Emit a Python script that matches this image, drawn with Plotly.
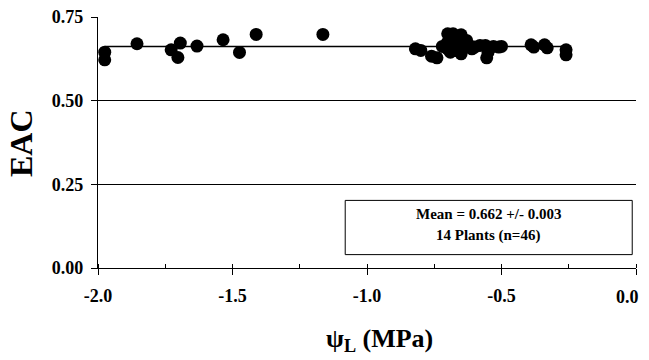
import plotly.graph_objects as go

# Leaf water potential (MPa) and EAC values
psi_left = [-1.975, -1.975, -1.855, -1.728, -1.694, -1.703, -1.632, -1.535, -1.474, -1.412, -1.164]
eac_left = [0.645, 0.622, 0.670, 0.652, 0.672, 0.629, 0.663, 0.682, 0.644, 0.698, 0.698]

psi_right = [-0.82, -0.80, -0.76, -0.74, -0.70, -0.69, -0.68, -0.70, -0.70, -0.69,
             -0.68, -0.67, -0.66, -0.65, -0.65, -0.64, -0.63, -0.62, -0.61, -0.60,
             -0.58, -0.56, -0.555, -0.55, -0.53, -0.51, -0.50, -0.39, -0.38, -0.34,
             -0.33, -0.26, -0.26, -0.72, -0.66]
eac_right = [0.655, 0.650, 0.633, 0.628, 0.700, 0.690, 0.700, 0.675, 0.655, 0.645,
             0.665, 0.650, 0.690, 0.697, 0.640, 0.660, 0.680, 0.665, 0.655, 0.660,
             0.665, 0.665, 0.628, 0.645, 0.662, 0.660, 0.662, 0.667, 0.660, 0.667,
             0.658, 0.652, 0.637, 0.662, 0.672]

psi = psi_left + psi_right
eac = eac_left + eac_right

MEAN = 0.662
x_ticks = [-2.0, -1.5, -1.0, -0.5, 0.0]
x_tick_text = ["-2.0", "-1.5", "-1.0", "-0.5", "0.0"]
y_ticks = [0.0, 0.25, 0.5, 0.75]
y_tick_text = ["0.00", "0.25", "0.50", "0.75"]
stats_lines = ["Mean = 0.662 +/- 0.003", "14 Plants (n=46)"]

FONT = "Liberation Serif, Times New Roman, serif"
W, H = 649, 360
ML, MR, MT, MB = 98, 13, 17, 92
PW, PH = W - ML - MR, H - MT - MB


def px_to_paper(px, py):
    return (px - ML) / PW, (H - MB - py) / PH


fig = go.Figure()
fig.add_trace(go.Scatter(x=[min(psi), max(psi)], y=[MEAN, MEAN], mode="lines",
                         line=dict(color="black", width=1.6), hoverinfo="skip",
                         showlegend=False))
fig.add_trace(go.Scatter(x=psi, y=eac, mode="markers",
                         marker=dict(color="black", size=13, line=dict(width=0)),
                         showlegend=False))

tickfont = dict(size=18, family=FONT, weight="bold", color="black")
# last x tick label is drawn separately (shifted left so it fits in the page)
shown_x_text = x_tick_text[:-1] + [""]
fig.update_layout(
    width=W, height=H,
    margin=dict(l=ML, r=MR, t=MT, b=MB, autoexpand=False),
    plot_bgcolor="white", paper_bgcolor="white",
    font=dict(family=FONT, color="black"),
    xaxis=dict(range=[-2.0, 0.0], tickvals=x_ticks, ticktext=shown_x_text,
               showgrid=False, zeroline=False, showline=True, linecolor="black",
               linewidth=1, ticks="outside", ticklen=6, tickcolor="black",
               tickfont=tickfont, automargin=False, ticklabelstandoff=5,
               minor=dict(ticks="inside", dtick=0.25, ticklen=4, tickcolor="black"),
               fixedrange=True),
    yaxis=dict(range=[0, 0.75], tickvals=y_ticks, ticktext=y_tick_text,
               showgrid=True, gridcolor="black", gridwidth=1, zeroline=False,
               showline=True, linecolor="black", linewidth=1.2, ticks="outside",
               ticklen=6, tickcolor="black", tickfont=tickfont, automargin=False,
               ticklabelstandoff=4, fixedrange=True),
)

lx, ly = px_to_paper(641, 297)
fig.add_annotation(x=lx, y=ly, xref="paper", yref="paper", text=x_tick_text[-1],
                   showarrow=False, xanchor="right", yanchor="middle", font=tickfont)

# stats box
fig.add_shape(type="rect", xref="x", yref="y", x0=-1.081, x1=-0.014, y0=0.040, y1=0.202,
              line=dict(color="black", width=1), fillcolor="white", layer="above")
fig.add_annotation(x=-0.549, y=0.160, xref="x", yref="y", text=stats_lines[0],
                   showarrow=False, xanchor="center", yanchor="middle",
                   font=dict(size=15, family=FONT, weight="bold"))
fig.add_annotation(x=-0.549, y=0.097, xref="x", yref="y", text=stats_lines[1],
                   showarrow=False, xanchor="center", yanchor="middle",
                   font=dict(size=15, family=FONT, weight="bold"))

# axis titles
ex, ey = px_to_paper(21, 143)
fig.add_annotation(x=ex, y=ey, xref="paper", yref="paper", text="EAC",
                   textangle=-90, showarrow=False, xanchor="center", yanchor="middle",
                   font=dict(size=32, family=FONT, weight="bold"))
tx, ty = px_to_paper(379, 340)
fig.add_annotation(x=tx, y=ty, xref="paper", yref="paper",
                   text="ψ<sub>L</sub> (MPa)", showarrow=False,
                   xanchor="center", yanchor="middle",
                   font=dict(size=26, family=FONT, weight="bold"))

fig.write_html("out.html", config={"displayModeBar": False},
               post_script="document.body.style.margin='0';document.body.style.overflow='hidden';")
